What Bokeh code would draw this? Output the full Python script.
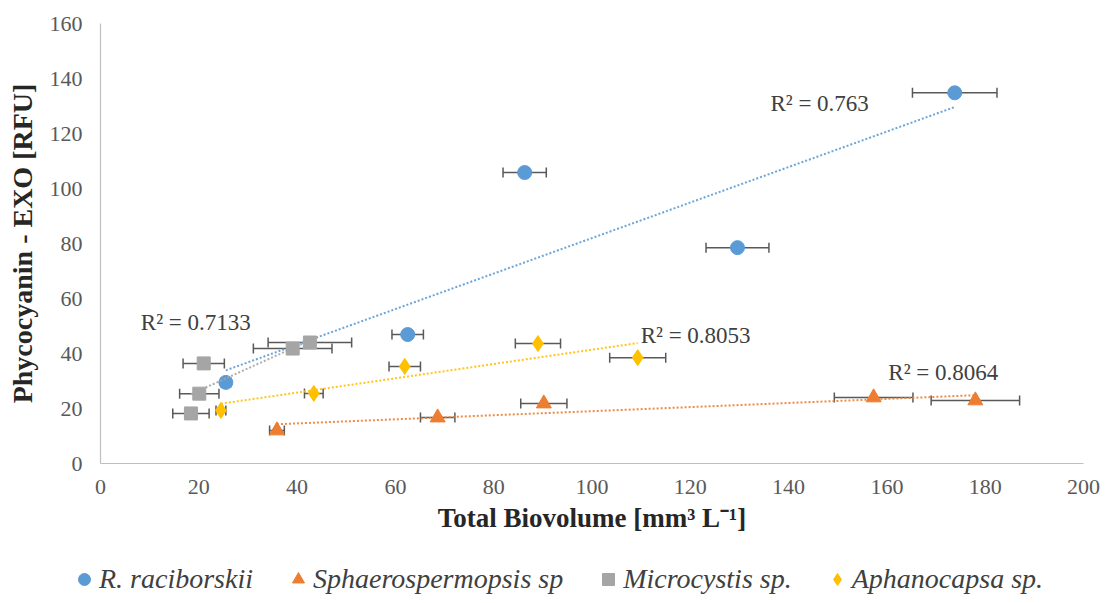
import numpy as np
from bokeh.plotting import figure
from bokeh.layouts import column
from bokeh.models import (ColumnDataSource, Range1d, Whisker, TeeHead, Label,
                          Legend, LegendItem, FixedTicker)
from bokeh.embed import file_html
from bokeh.resources import INLINE

# Total biovolume (mm3 L-1), phycocyanin (RFU) and biovolume standard deviation
rac_x = [25.5, 62.5, 86.3, 129.6, 173.8]
rac_y = [29.5, 46.9, 105.8, 78.5, 134.8]
rac_err = [1.0, 3.2, 4.4, 6.4, 8.6]

sph_x = [35.9, 68.6, 90.2, 157.3, 178.0]
sph_y = [12.0, 16.7, 21.8, 24.0, 22.9]
sph_err = [1.5, 3.5, 4.7, 8.0, 9.0]

mic_x = [18.4, 20.1, 21.0, 39.1, 42.6]
mic_y = [18.2, 25.4, 36.4, 41.8, 44.0]
mic_err = [3.7, 4.0, 4.2, 8.0, 8.5]

aph_x = [24.5, 43.4, 61.9, 89.0, 109.3]
aph_y = [19.3, 25.5, 35.3, 43.6, 38.5]
aph_err = [1.0, 1.9, 3.2, 4.6, 5.7]

names = ["R. raciborskii", "Sphaerospermopsis sp", "Microcystis sp.", "Aphanocapsa sp."]
r2_text = ["R\u00b2 = 0.763", "R\u00b2 = 0.8064", "R\u00b2 = 0.7133", "R\u00b2 = 0.8053"]
r2_pos = [(136.3, 130.9), (160.3, 33.1), (8.2, 51.3), (109.9, 46.5)]

x_ticks = [0, 20, 40, 60, 80, 100, 120, 140, 160, 180, 200]
y_ticks = [0, 20, 40, 60, 80, 100, 120, 140, 160]

series = [
    (rac_x, rac_y, rac_err, "#5B9BD5", "circle", 14),
    (sph_x, sph_y, sph_err, "#ED7D31", "triangle", 15),
    (mic_x, mic_y, mic_err, "#A5A5A5", "square", 13),
    (aph_x, aph_y, aph_err, "#FFC000", "diamond", 16),
]

FONT = "'Liberation Serif', 'Times New Roman', serif"

p = figure(width=1114, height=555, output_backend="svg", toolbar_location=None,
           x_range=Range1d(0, 200), y_range=Range1d(0, 160),
           min_border_left=100, min_border_right=31, min_border_top=23,
           min_border_bottom=92)
p.frame_align = False
p.outline_line_color = None
p.background_fill_color = "white"
p.border_fill_color = "white"
p.xgrid.visible = False
p.ygrid.visible = False

for ax in (p.xaxis, p.yaxis):
    ax.axis_line_color = "#BFBFBF"
    ax.axis_line_width = 1.2
    ax.major_tick_out = 0
    ax.major_tick_in = 0
    ax.minor_tick_out = 0
    ax.minor_tick_in = 0
    ax.major_label_text_font = FONT
    ax.major_label_text_font_size = "22px"
    ax.major_label_text_color = "#595959"
    ax.axis_label_text_font = FONT
    ax.axis_label_text_font_style = "bold"
    ax.axis_label_text_color = "#262626"

p.xaxis.axis_label_text_font_size = "27px"
p.yaxis.axis_label_text_font_size = "28px"
p.xaxis.ticker = FixedTicker(ticks=x_ticks)
p.yaxis.ticker = FixedTicker(ticks=y_ticks)
p.xaxis.major_label_standoff = 16
p.yaxis.major_label_standoff = 18
p.xaxis.axis_label = "Total Biovolume [mm\u00b3 L\u207b\u00b9]"
p.yaxis.axis_label = "Phycocyanin - EXO [RFU]"
p.xaxis.axis_label_standoff = 6
p.yaxis.axis_label_standoff = 9

marker_renderers = []
for xs, ys, errs, color, marker, size in series:
    xs_a = np.array(xs)
    ys_a = np.array(ys)
    # linear trendline over the data span
    slope, intercept = np.polyfit(xs_a, ys_a, 1)
    tx = np.array([xs_a.min(), xs_a.max()])
    p.line(tx, slope * tx + intercept, line_color=color, line_width=2,
           line_dash="2 2", line_alpha=0.9)

    src = ColumnDataSource(dict(x=xs_a, y=ys_a,
                                lower=xs_a - np.array(errs),
                                upper=xs_a + np.array(errs)))
    whisker = Whisker(source=src, base="y", lower="lower", upper="upper",
                      dimension="width", line_color="#595959", line_width=1.5,
                      upper_head=TeeHead(size=10, line_color="#595959", line_width=1.5),
                      lower_head=TeeHead(size=10, line_color="#595959", line_width=1.5))
    p.add_layout(whisker)
    r = p.scatter("x", "y", source=src, marker=marker, size=size,
                  fill_color=color, line_color=color)
    marker_renderers.append(r)

for txt, (lx, ly) in zip(r2_text, r2_pos):
    p.add_layout(Label(x=lx, y=ly, text=txt, text_font=FONT,
                       text_font_size="23px", text_color="#404040",
                       text_baseline="middle", text_align="left"))

# Separate strip underneath holding the series legend; its ranges keep the
# key glyphs' own points out of view so only the legend swatches show.
lg = figure(width=1114, height=48, output_backend="svg", toolbar_location=None,
            x_range=Range1d(-2, -1), y_range=Range1d(-2, -1),
            x_axis_type=None, y_axis_type=None,
            min_border_left=0, min_border_right=0, min_border_top=0,
            min_border_bottom=0)
lg.frame_align = False
lg.outline_line_color = None
lg.xgrid.visible = False
lg.ygrid.visible = False

key_renderers = []
for xs, ys, errs, color, marker, size in series:
    key_renderers.append(lg.scatter(x=xs[:1], y=ys[:1], marker=marker, size=size,
                                    fill_color=color, line_color=color))

legend = Legend(items=[LegendItem(label=n, renderers=[r])
                       for n, r in zip(names, key_renderers)],
                orientation="horizontal", location=(69, 8),
                label_text_font=FONT, label_text_font_size="28px",
                label_text_font_style="italic", label_text_color="#404040",
                glyph_width=30, glyph_height=30, label_standoff=0,
                spacing=30, padding=0, margin=0, border_line_color=None,
                background_fill_alpha=0)
lg.add_layout(legend)

open("out.html", "w").write(file_html(column(p, lg), INLINE))
